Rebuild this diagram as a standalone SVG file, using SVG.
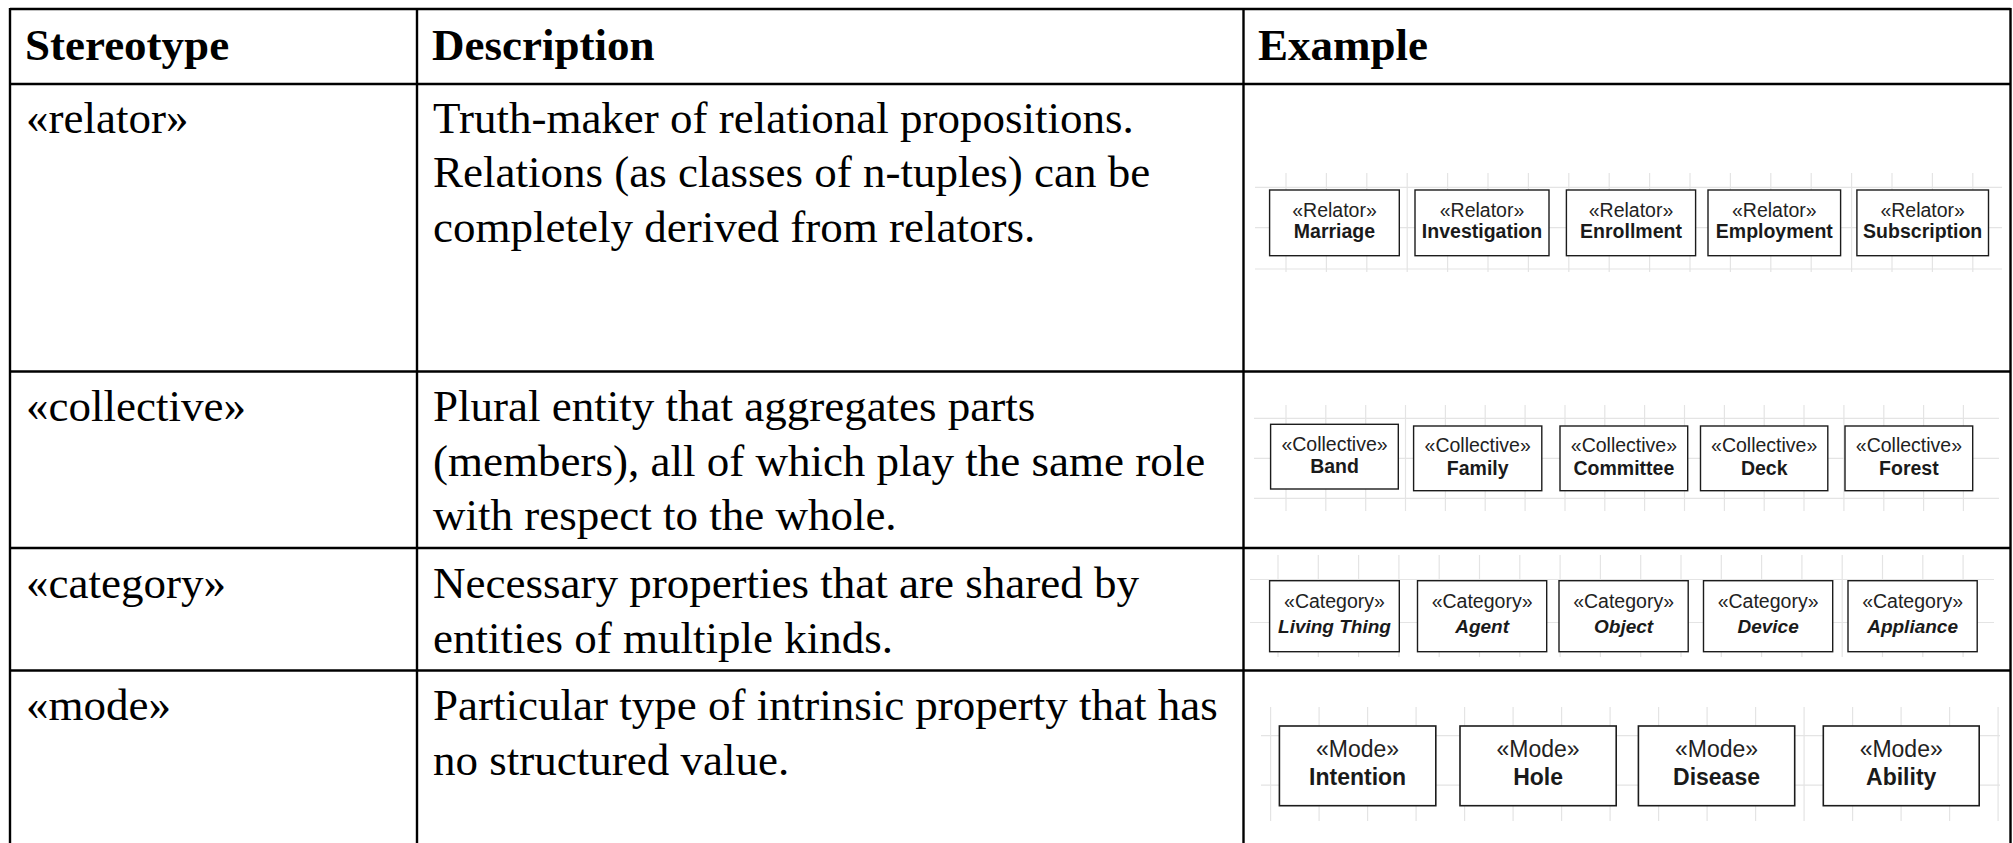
<svg xmlns="http://www.w3.org/2000/svg" width="2013" height="843" viewBox="0 0 2013 843">
  <style>
    .rule { stroke: #000; stroke-width: 2.4; fill: none; }
    .head { font-family: "Liberation Serif", "Times New Roman", serif; font-size: 45px; font-weight: bold; fill: #000; }
    .cell { font-family: "Liberation Serif", "Times New Roman", serif; font-size: 45px; fill: #000; }
    .grid { stroke: #e4e4e4; stroke-width: 1.2; fill: none; }
    .box { fill: #fff; stroke: #1c1c1c; stroke-width: 1.4; }
    .st { font-family: "Liberation Sans", Arial, sans-serif; font-size: 19.5px; fill: #222; text-anchor: middle; }
    .nm { font-family: "Liberation Sans", Arial, sans-serif; font-size: 19.5px; font-weight: bold; fill: #1a1a1a; text-anchor: middle; }
    .it { font-style: italic; font-size: 19px; }
    .big { font-size: 23px; }
    .box.big { stroke-width: 1.6; }
  </style>

  <rect width="2013" height="843" fill="#fff"/>

  <!-- table rules -->
  <g id="table-rules">
    <line class="rule" x1="10" y1="9" x2="2010.5" y2="9"/>
    <line class="rule" x1="10" y1="84" x2="2010.5" y2="84"/>
    <line class="rule" x1="10" y1="371.5" x2="2010.5" y2="371.5"/>
    <line class="rule" x1="10" y1="548" x2="2010.5" y2="548"/>
    <line class="rule" x1="10" y1="670.5" x2="2010.5" y2="670.5"/>
    <line class="rule" x1="10" y1="8" x2="10" y2="843"/>
    <line class="rule" x1="417" y1="8" x2="417" y2="843"/>
    <line class="rule" x1="1243.5" y1="8" x2="1243.5" y2="843"/>
    <line class="rule" x1="2010.5" y1="8" x2="2010.5" y2="843"/>
  </g>

  <!-- header row -->
  <g id="header">
    <text class="head" x="25" y="59.5">Stereotype</text>
    <text class="head" x="432" y="59.5">Description</text>
    <text class="head" x="1258" y="59.5">Example</text>
  </g>

  <!-- stereotype / description cells -->
  <g id="row-relator">
    <text class="cell" x="26" y="133">«relator»</text>
    <text class="cell" x="433" y="133">Truth-maker of relational propositions.</text>
    <text class="cell" x="433" y="187.3">Relations (as classes of n-tuples) can be</text>
    <text class="cell" x="433" y="241.6">completely derived from relators.</text>
  </g>
  <g id="row-collective">
    <text class="cell" x="26" y="421">«collective»</text>
    <text class="cell" x="433" y="421">Plural entity that aggregates parts</text>
    <text class="cell" x="433" y="475.5">(members), all of which play the same role</text>
    <text class="cell" x="433" y="530">with respect to the whole.</text>
  </g>
  <g id="row-category">
    <text class="cell" x="26" y="598">«category»</text>
    <text class="cell" x="433" y="598">Necessary properties that are shared by</text>
    <text class="cell" x="433" y="652.5">entities of multiple kinds.</text>
  </g>
  <g id="row-mode">
    <text class="cell" x="26" y="720">«mode»</text>
    <text class="cell" x="433" y="720">Particular type of intrinsic property that has</text>
    <text class="cell" x="433" y="774.5">no structured value.</text>
  </g>

  <!-- background grids behind the example classes -->
  <g id="grid-relator" class="grid">
    <path d="M1255 187.3H2002M1255 227.7H2002M1255 269H2002"/>
    <path d="M1286 173V272M1326.4 173V272M1366.8 173V272M1407.2 173V272M1447.6 173V272M1488 173V272M1528.4 173V272M1568.8 173V272M1609.2 173V272M1649.6 173V272M1690 173V272M1730.4 173V272M1770.8 173V272M1811.2 173V272M1851.6 173V272M1892 173V272M1932.4 173V272M1972.8 173V272"/>
  </g>
  <g id="grid-collective" class="grid">
    <path d="M1254 418.3H1999M1254 458.3H1999M1254 498.3H1999"/>
    <path d="M1286 405V511M1325.8 405V511M1365.7 405V511M1405.5 405V511M1445.4 405V511M1485.2 405V511M1525.1 405V511M1565 405V511M1604.8 405V511M1644.6 405V511M1684.5 405V511M1724.4 405V511M1764.2 405V511M1804 405V511M1843.9 405V511M1883.8 405V511M1923.6 405V511M1963.4 405V511"/>
  </g>
  <g id="grid-category" class="grid">
    <path d="M1250 579.5H1994M1250 622.5H1994"/>
    <path d="M1278 555V657M1318.3 555V657M1358.6 555V657M1398.9 555V657M1439.2 555V657M1479.5 555V657M1519.8 555V657M1560.1 555V657M1600.4 555V657M1640.7 555V657M1681 555V657M1721.3 555V657M1761.6 555V657M1801.9 555V657M1842.2 555V657M1882.5 555V657M1922.8 555V657M1963.1 555V657"/>
  </g>
  <g id="grid-mode" class="grid">
    <path d="M1261 735.7H2000M1261 785.2H2000"/>
    <path d="M1270.6 707V821M1319.1 707V821M1367.6 707V821M1416.1 707V821M1464.6 707V821M1513.1 707V821M1561.6 707V821M1610.1 707V821M1658.6 707V821M1707.1 707V821M1755.6 707V821M1804.1 707V821M1852.6 707V821M1901.1 707V821M1949.6 707V821M1998.1 707V821"/>
  </g>

  <!-- relator classes -->
  <g id="marriage">
    <rect class="box" x="1269.6" y="190" width="129.7" height="65.7"/>
    <text class="st" x="1334.5" y="216.5">«Relator»</text>
    <text class="nm" x="1334.5" y="238.3">Marriage</text>
  </g>
  <g id="investigation">
    <rect class="box" x="1415" y="190" width="134" height="65.7"/>
    <text class="st" x="1482" y="216.5">«Relator»</text>
    <text class="nm" x="1482" y="238.3">Investigation</text>
  </g>
  <g id="enrollment">
    <rect class="box" x="1566.4" y="190" width="129.2" height="65.7"/>
    <text class="st" x="1631" y="216.5">«Relator»</text>
    <text class="nm" x="1631" y="238.3">Enrollment</text>
  </g>
  <g id="employment">
    <rect class="box" x="1708" y="190" width="132.6" height="65.7"/>
    <text class="st" x="1774.3" y="216.5">«Relator»</text>
    <text class="nm" x="1774.3" y="238.3">Employment</text>
  </g>
  <g id="subscription">
    <rect class="box" x="1856.9" y="190" width="131.6" height="65.7"/>
    <text class="st" x="1922.7" y="216.5">«Relator»</text>
    <text class="nm" x="1922.7" y="238.3">Subscription</text>
  </g>

  <!-- collective classes -->
  <g id="band">
    <rect class="box" x="1270.6" y="424.3" width="127.7" height="64.7"/>
    <text class="st" x="1334.5" y="450.5">«Collective»</text>
    <text class="nm" x="1334.5" y="473">Band</text>
  </g>
  <g id="family">
    <rect class="box" x="1413.6" y="426" width="128.2" height="64.7"/>
    <text class="st" x="1477.7" y="452">«Collective»</text>
    <text class="nm" x="1477.7" y="474.5">Family</text>
  </g>
  <g id="committee">
    <rect class="box" x="1560" y="426" width="127.7" height="64.7"/>
    <text class="st" x="1623.9" y="452">«Collective»</text>
    <text class="nm" x="1623.9" y="474.5">Committee</text>
  </g>
  <g id="deck">
    <rect class="box" x="1700.5" y="426" width="127.3" height="64.7"/>
    <text class="st" x="1764.2" y="452">«Collective»</text>
    <text class="nm" x="1764.2" y="474.5">Deck</text>
  </g>
  <g id="forest">
    <rect class="box" x="1845" y="426" width="127.7" height="64.7"/>
    <text class="st" x="1908.9" y="452">«Collective»</text>
    <text class="nm" x="1908.9" y="474.5">Forest</text>
  </g>

  <!-- category classes (abstract, italic names) -->
  <g id="living-thing">
    <rect class="box" x="1269.6" y="580.7" width="129.7" height="71"/>
    <text class="st" x="1334.5" y="608">«Category»</text>
    <text class="nm it" x="1334.5" y="632.5">Living Thing</text>
  </g>
  <g id="agent">
    <rect class="box" x="1417.5" y="580.7" width="129.2" height="71"/>
    <text class="st" x="1482.1" y="608">«Category»</text>
    <text class="nm it" x="1482.1" y="632.5">Agent</text>
  </g>
  <g id="object">
    <rect class="box" x="1559" y="580.7" width="129.2" height="71"/>
    <text class="st" x="1623.6" y="608">«Category»</text>
    <text class="nm it" x="1623.6" y="632.5">Object</text>
  </g>
  <g id="device">
    <rect class="box" x="1703.5" y="580.7" width="129.2" height="71"/>
    <text class="st" x="1768.1" y="608">«Category»</text>
    <text class="nm it" x="1768.1" y="632.5">Device</text>
  </g>
  <g id="appliance">
    <rect class="box" x="1848" y="580.7" width="129.2" height="71"/>
    <text class="st" x="1912.6" y="608">«Category»</text>
    <text class="nm it" x="1912.6" y="632.5">Appliance</text>
  </g>

  <!-- mode classes -->
  <g id="intention">
    <rect class="box big" x="1279.4" y="726" width="156.4" height="79.7"/>
    <text class="st big" x="1357.6" y="757">«Mode»</text>
    <text class="nm big" x="1357.6" y="785">Intention</text>
  </g>
  <g id="hole">
    <rect class="box big" x="1460" y="726" width="156.2" height="79.7"/>
    <text class="st big" x="1538.1" y="757">«Mode»</text>
    <text class="nm big" x="1538.1" y="785">Hole</text>
  </g>
  <g id="disease">
    <rect class="box big" x="1638.4" y="726" width="156.3" height="79.7"/>
    <text class="st big" x="1716.5" y="757">«Mode»</text>
    <text class="nm big" x="1716.5" y="785">Disease</text>
  </g>
  <g id="ability">
    <rect class="box big" x="1823.3" y="726" width="155.9" height="79.7"/>
    <text class="st big" x="1901.2" y="757">«Mode»</text>
    <text class="nm big" x="1901.2" y="785">Ability</text>
  </g>
</svg>
